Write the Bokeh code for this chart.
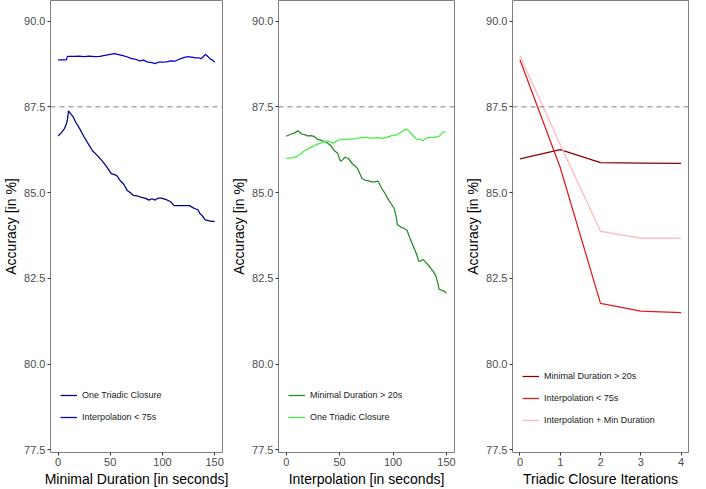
from bokeh.plotting import figure
from bokeh.layouts import row
from bokeh.models import Range1d, Span, Legend, LegendItem, FixedTicker, NumeralTickFormatter
from bokeh.embed import file_html
from bokeh.resources import INLINE

# ---------------- data ----------------
y_ticks = [77.5, 80.0, 82.5, 85.0, 87.5, 90.0]
baseline = 87.5

# Panel 1: Minimal Duration [in seconds]
p1_otc_x = [0, 3, 6, 8, 9, 10, 12, 14, 17, 21, 25, 29, 33, 37, 42, 46, 51, 54, 56, 58, 60, 63, 66, 69,
            72, 76, 80, 84, 87, 90, 93, 96, 99, 103, 106, 108, 111, 115, 120, 126, 129, 132, 134, 136,
            138, 141, 144, 147, 150]
p1_otc_y = [86.65, 86.74, 86.86, 87.0, 87.12, 87.38, 87.30, 87.23, 87.05, 86.85, 86.62, 86.42, 86.22,
            86.10, 85.93, 85.78, 85.55, 85.52, 85.50, 85.42, 85.33, 85.24, 85.07, 85.0, 84.92, 84.90,
            84.86, 84.83, 84.78, 84.82, 84.78, 84.84, 84.84, 84.80, 84.76, 84.73, 84.62, 84.62, 84.62,
            84.62, 84.56, 84.52, 84.50, 84.38, 84.33, 84.2, 84.18, 84.16, 84.16]
p1_int_x = [0, 8, 9, 15, 20, 25, 30, 35, 40, 45, 50, 54, 58, 62, 66, 69, 72, 75, 78, 82, 86, 90, 93,
            96, 100, 104, 108, 112, 117, 121, 124, 128, 132, 135, 137, 139, 141, 143, 146, 148, 150]
p1_int_y = [88.87, 88.87, 88.97, 88.97, 88.98, 88.96, 88.98, 88.96, 88.97, 89.0, 89.03, 89.05, 89.02,
            88.99, 88.96, 88.92, 88.90, 88.88, 88.84, 88.86, 88.80, 88.79, 88.76, 88.80, 88.80, 88.81,
            88.84, 88.83, 88.90, 88.94, 88.96, 88.95, 88.93, 88.93, 88.90, 88.96, 89.03, 88.98, 88.89,
            88.86, 88.80]

# Panel 2: Interpolation [in seconds]
p2_md_x = [0, 4, 8, 11, 13, 15, 18, 20, 23, 26, 29, 33, 38, 42, 45, 48, 50, 51, 53, 55, 58, 60, 62,
           65, 67, 69, 71, 74, 77, 80, 83, 86, 89, 92, 95, 98, 101, 103, 104, 107, 110, 113, 116, 119,
           122, 124, 126, 128, 131, 134, 136, 138, 140, 142, 143, 146, 148, 150]
p2_md_y = [86.64, 86.70, 86.74, 86.80, 86.74, 86.70, 86.68, 86.65, 86.66, 86.64, 86.56, 86.52, 86.46,
           86.36, 86.22, 86.15, 85.98, 85.91, 85.96, 86.03, 86.0, 85.92, 85.84, 85.76, 85.69, 85.55,
           85.41, 85.36, 85.34, 85.31, 85.31, 85.33, 85.14, 85.0, 84.83, 84.68, 84.54, 84.30, 84.06,
           84.00, 83.96, 83.91, 83.65, 83.43, 83.2, 83.0, 83.0, 83.05, 82.95, 82.85, 82.76, 82.68,
           82.57, 82.35, 82.18, 82.15, 82.12, 82.06]
p2_otc_x = [0, 5, 9, 13, 17, 21, 26, 30, 35, 38, 41, 44, 47, 50, 55, 59, 65, 70, 74, 80, 85, 89, 94,
            98, 103, 107, 110, 112, 114, 116, 119, 122, 125, 128, 131, 134, 138, 143, 146, 149]
p2_otc_y = [86.0, 86.01, 86.03, 86.12, 86.22, 86.28, 86.36, 86.42, 86.48, 86.51, 86.48, 86.44, 86.50,
            86.54, 86.55, 86.56, 86.57, 86.60, 86.61, 86.59, 86.60, 86.58, 86.61, 86.65, 86.68, 86.75,
            86.80, 86.85, 86.82, 86.75, 86.65, 86.56, 86.55, 86.51, 86.58, 86.61, 86.61, 86.64, 86.74,
            86.78]

# Panel 3: Triadic Closure Iterations
p3_x = [0, 1, 2, 3, 4]
p3_md = [85.98, 86.25, 85.87, 85.86, 85.85]
p3_int = [88.87, 85.73, 81.77, 81.54, 81.50]
p3_int_md = [88.98, 86.40, 83.87, 83.67, 83.67]

FONT = "Liberation Sans"


def make_fig(width, bl, br, xr, xticks, xlabel, series, leg_loc):
    p = figure(width=width, height=489, output_backend="svg", toolbar_location=None,
               x_range=Range1d(*xr), y_range=Range1d(77.42, 90.6),
               min_border_left=bl, min_border_right=br, min_border_top=0, min_border_bottom=0)
    p.grid.visible = False
    p.outline_line_color = "#7F7F7F"
    p.outline_line_width = 1
    p.background_fill_color = "white"
    p.border_fill_color = "white"
    for ax in (p.xaxis[0], p.yaxis[0]):
        ax.axis_line_color = None
        ax.major_tick_line_color = "#333333"
        ax.major_tick_out = 3
        ax.major_tick_in = 0
        ax.minor_tick_line_color = None
        ax.major_label_text_font = FONT
        ax.major_label_text_font_size = "11px"
        ax.major_label_text_color = "#4D4D4D"
        ax.axis_label_text_font = FONT
        ax.axis_label_text_font_size = "14px"
        ax.axis_label_text_font_style = "normal"
        ax.axis_label_text_color = "black"
        ax.major_label_standoff = 2
        ax.axis_label_standoff = 2
    p.yaxis[0].ticker = FixedTicker(ticks=y_ticks)
    p.yaxis[0].formatter = NumeralTickFormatter(format="0.0")
    p.yaxis[0].axis_label = "Accuracy [in %]"
    p.xaxis[0].ticker = FixedTicker(ticks=xticks)
    p.xaxis[0].axis_label = xlabel
    p.add_layout(Span(location=baseline, dimension="width", line_color="#808080",
                      line_dash="5 4", line_width=1))
    items = []
    for xs, ys, color, label in series:
        r = p.line(xs, ys, line_color=color, line_width=1.25)
        items.append(LegendItem(label=label, renderers=[r]))
    leg = Legend(items=items, location=leg_loc, padding=0, margin=0, spacing=2,
                 glyph_width=17, glyph_height=20, label_height=20, label_standoff=5,
                 label_text_font=FONT, label_text_font_size="9px", label_text_color="#1A1A1A",
                 background_fill_alpha=0, border_line_color=None)
    p.add_layout(leg)
    return p


p1 = make_fig(228, 46, 6, (-7.2, 157.5), [0, 50, 100, 150], "Minimal Duration [in seconds]",
              [(p1_otc_x, p1_otc_y, "#000080", "One Triadic Closure"),
               (p1_int_x, p1_int_y, "#0000CD", "Interpolation < 75s")], (10, 25))
p2 = make_fig(232, 50, 6, (-7.2, 157.5), [0, 50, 100, 150], "Interpolation [in seconds]",
              [(p2_md_x, p2_md_y, "#228B22", "Minimal Duration > 20s"),
               (p2_otc_x, p2_otc_y, "#44EE44", "One Triadic Closure")], (10, 25))
p3 = make_fig(230, 52, 2, (-0.185, 4.185), [0, 1, 2, 3, 4], "Triadic Closure Iterations",
              [(p3_x, p3_md, "#8B0000", "Minimal Duration > 20s"),
               (p3_x, p3_int, "#E31A1C", "Interpolation < 75s"),
               (p3_x, p3_int_md, "#FFB6C1", "Interpolation + Min Duration")], (10, 22))

layout = row(p1, p2, p3)
open("out.html", "w").write(file_html(layout, INLINE))
